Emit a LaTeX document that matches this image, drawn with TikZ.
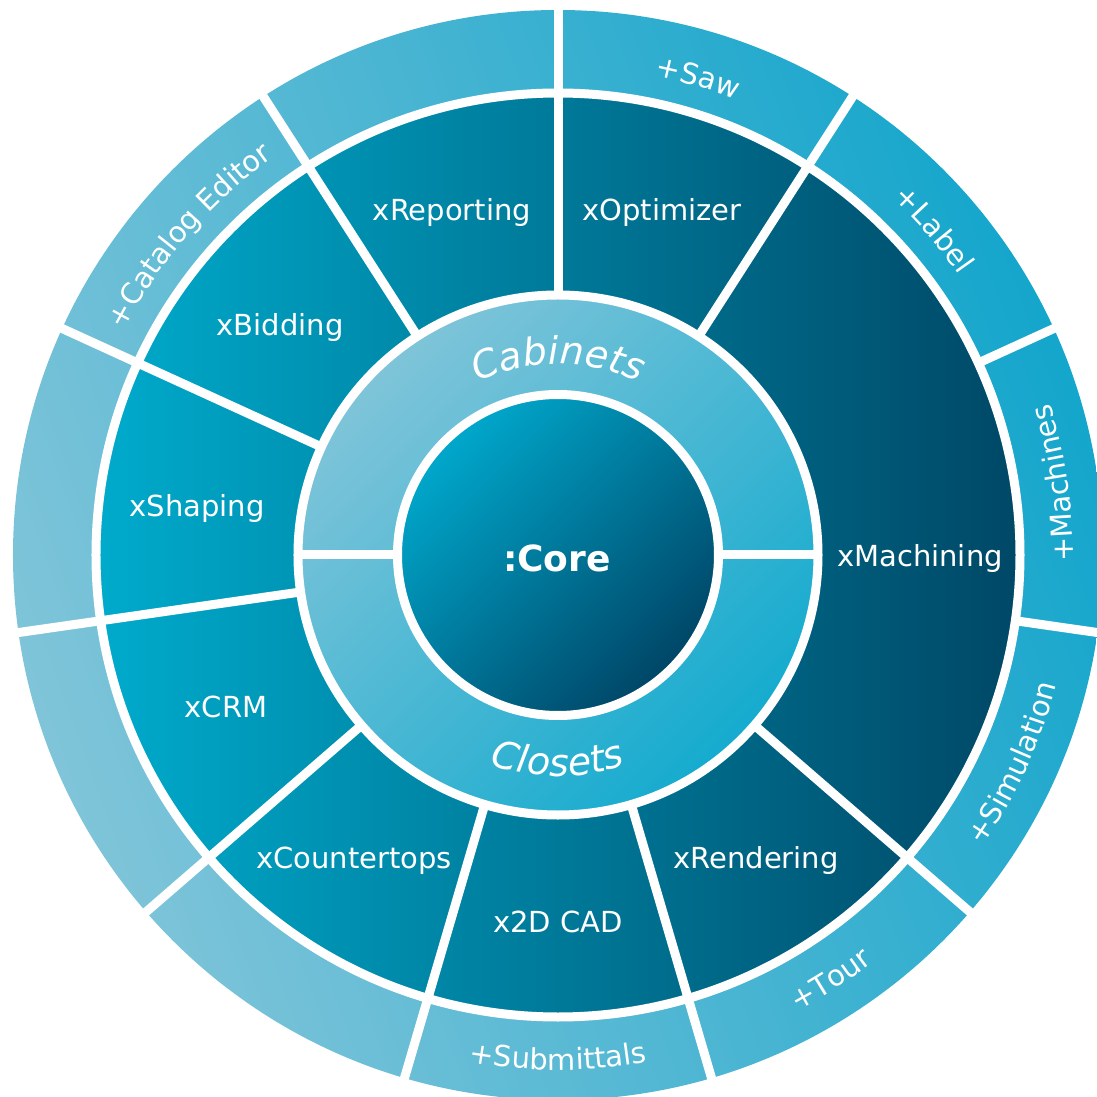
\documentclass[tikz,border=0pt]{standalone}
\usepackage{fontspec}
\setmainfont{DejaVu Sans}
\usetikzlibrary{decorations.text}

\newcommand{\ringtxt}{\color{white}\itshape\fontsize{38}{42}\selectfont}
\newcommand{\plustxt}{\color{white}\fontsize{29}{33}\selectfont}

\tikzset{
  gap/.style={draw=white,line width=9pt},
  modlabel/.style={text=white,anchor=base,inner sep=0pt,font=\fontsize{29}{33}\selectfont},
  corelabel/.style={text=white,anchor=base,inner sep=0pt,font=\bfseries\fontsize{36}{42}\selectfont},
}

\begin{document}
\begin{tikzpicture}[x=1pt,y=1pt]
\definecolor{cout0}{rgb}{0.50,0.77,0.85}
\definecolor{cout1}{rgb}{0.08,0.65,0.80}
\definecolor{cmid0}{rgb}{0.0,0.67,0.80}
\definecolor{cmid1}{rgb}{0.0,0.28,0.40}
\definecolor{cring0}{rgb}{0.50,0.77,0.85}
\definecolor{cring1}{rgb}{0.08,0.67,0.81}
\definecolor{ccore0}{rgb}{0.0,0.66,0.80}
\definecolor{ccore1}{rgb}{0.0,0.27,0.40}
%
\useasboundingbox (-558,-542) rectangle (538,555);
%
\shade[top color=cout1,bottom color=cout0,shading angle=-70] (0,0) circle (545);
\shade[left color=cmid0,right color=cmid1] (0,0) circle (462);
\shade[top color=cring0,bottom color=cring1,shading angle=45] (0,0) circle (260);
\shade[top color=ccore0,bottom color=ccore1,shading angle=45] (0,0) circle (161);
%
\draw[gap] (0,0) circle (462);
\draw[gap] (0,0) circle (260);
\draw[gap] (0,0) circle (160.5);
%
\draw[gap] (0:160.5) -- (0:260);
\draw[gap] (180:160.5) -- (180:260);
%
\draw[gap] (90:260) -- (90:560);
\draw[gap] (57.27:260) -- (57.27:560);
\draw[gap] (122.73:260) -- (122.73:560);
\draw[gap] (155.45:260) -- (155.45:560);
\draw[gap] (188.18:260) -- (188.18:560);
\draw[gap] (220.91:260) -- (220.91:560);
\draw[gap] (253.64:260) -- (253.64:560);
\draw[gap] (286.36:260) -- (286.36:560);
\draw[gap] (319.09:260) -- (319.09:560);
\draw[gap] (24.55:462) -- (24.55:560);
\draw[gap] (351.82:462) -- (351.82:560);
%
\node[corelabel] (core) at (-1,-17) {:Core};
%
\node[modlabel] (xreporting) at (-106,334) {xReporting};
\node[modlabel] (xoptimizer) at (104,334) {xOptimizer};
\node[modlabel] (xbidding) at (-278,219) {xBidding};
\node[modlabel] (xshaping) at (-361,38) {xShaping};
\node[modlabel] (xcrm) at (-332,-162) {xCRM};
\node[modlabel] (xcountertops) at (-204,-313) {xCountertops};
\node[modlabel] (x2dcad) at (0,-377) {x2D CAD};
\node[modlabel] (xrendering) at (198,-313) {xRendering};
\node[modlabel] (xmachining) at (362,-12) {xMachining};
%
\path[decorate,decoration={text along path,text align=center,text={|\ringtxt|Cabinets}}]
  (122:191) arc[start angle=122,end angle=58,radius=191];
\path[decorate,decoration={text along path,text align=center,text={|\ringtxt|Closets}}]
  (238:221) arc[start angle=238,end angle=302,radius=221];
%
\path[decorate,decoration={text along path,text align=center,text={|\plustxt|+Saw}}]
  (90:489) arc[start angle=90,end angle=57.27,radius=489];
\path[decorate,decoration={text along path,text align=center,text={|\plustxt|+Label}}]
  (57.27:489) arc[start angle=57.27,end angle=24.55,radius=489];
\path[decorate,decoration={text along path,text align=center,text={|\plustxt|+Machines}}]
  (-8.18:515) arc[start angle=-8.18,end angle=24.55,radius=515];
\path[decorate,decoration={text along path,text align=center,text={|\plustxt|+Simulation}}]
  (-40.91:515) arc[start angle=-40.91,end angle=-8.18,radius=515];
\path[decorate,decoration={text along path,text align=center,text={|\plustxt|+Tour}}]
  (-73.64:515) arc[start angle=-73.64,end angle=-40.91,radius=515];
\path[decorate,decoration={text along path,text align=center,text={|\plustxt|+Submittals}}]
  (-106.36:515) arc[start angle=-106.36,end angle=-73.64,radius=515];
\path[decorate,decoration={text along path,text align=center,text={|\plustxt|+Catalog Editor}}]
  (156.5:489) arc[start angle=156.5,end angle=121.7,radius=489];
%
\end{tikzpicture}
\end{document}
